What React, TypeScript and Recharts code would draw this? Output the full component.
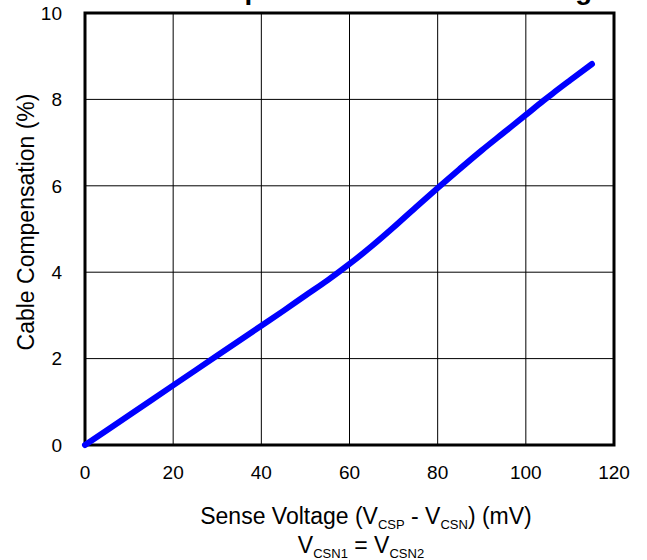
import React from "react";
import {
  LineChart,
  Line,
  XAxis,
  YAxis,
  CartesianGrid,
  ReferenceArea,
} from "recharts";

// Sense voltage (mV) vs cable compensation (%)
const senseVoltage = [0, 10, 20, 30, 40, 45, 50, 55, 60, 65, 70, 75, 80, 85, 90, 95, 100, 104, 106, 110, 115];
const compensation = [0, 0.69, 1.38, 2.07, 2.76, 3.105, 3.46, 3.81, 4.19, 4.6, 5.04, 5.5, 5.95, 6.39, 6.82, 7.23, 7.64, 7.97, 8.13, 8.44, 8.82];

const xTicks = [0, 20, 40, 60, 80, 100, 120];
const yTicks = [0, 2, 4, 6, 8, 10];

const FONT = '"Liberation Sans", Arial, sans-serif';

const data = senseVoltage.map((v, i) => ({ v, c: compensation[i] }));

export default function App() {
  return (
    <div style={{ position: "absolute", left: 0, top: 0, width: 647, height: 560, overflow: "hidden", background: "#fff" }}>
      <LineChart
        width={647}
        height={560}
        data={data}
        margin={{ top: 13, right: 33, bottom: 85, left: 0 }}
        style={{ fontFamily: FONT }}
      >
        <CartesianGrid stroke="#000" strokeWidth={1} />
        <XAxis
          dataKey="v"
          type="number"
          domain={[0, 120]}
          ticks={xTicks}
          height={30}
          tickLine={false}
          tickSize={0}
          tickMargin={21}
          axisLine={false}
          tick={{ fill: "#000", fontSize: 19, fontFamily: FONT }}
        />
        <YAxis
          type="number"
          domain={[0, 10]}
          ticks={yTicks}
          width={85}
          tickLine={false}
          tickSize={0}
          tickMargin={23}
          axisLine={false}
          tick={{ fill: "#000", fontSize: 19, fontFamily: FONT }}
        />
        <ReferenceArea
          x1={0}
          x2={120}
          y1={0}
          y2={10}
          fill="none"
          fillOpacity={0}
          stroke="#000"
          strokeWidth={3}
          ifOverflow="visible"
        />
        <Line
          dataKey="c"
          type="monotone"
          stroke="#0000ff"
          strokeWidth={6}
          strokeLinecap="round"
          strokeLinejoin="round"
          dot={false}
          activeDot={false}
          isAnimationActive={false}
        />
        {/* title sits mostly above the top edge, only descenders show */}
        <text
          x={354}
          y={-1.5}
          textAnchor="middle"
          fontFamily={FONT}
          fontWeight="bold"
          fontSize={27.6}
          fill="#000"
        >
          Cable Compensation vs Sense Voltage
        </text>
        <text
          x={26}
          y={222}
          transform="rotate(-90 26 222)"
          textAnchor="middle"
          dominantBaseline="central"
          fontFamily={FONT}
          fontSize={23}
          fill="#000"
        >
          Cable Compensation (%)
        </text>
        <text x={366} y={524} textAnchor="middle" fontFamily={FONT} fontSize={23} fill="#000">
          Sense Voltage (V
          <tspan fontSize={13} dy={5}>CSP</tspan>
          <tspan dy={-5}> - V</tspan>
          <tspan fontSize={13} dy={5}>CSN</tspan>
          <tspan dy={-5}>) (mV)</tspan>
        </text>
        <text x={361} y={553} textAnchor="middle" fontFamily={FONT} fontSize={23} fill="#000">
          V
          <tspan fontSize={13} dy={5}>CSN1</tspan>
          <tspan dy={-5}> = V</tspan>
          <tspan fontSize={13} dy={5}>CSN2</tspan>
        </text>
      </LineChart>
    </div>
  );
}
